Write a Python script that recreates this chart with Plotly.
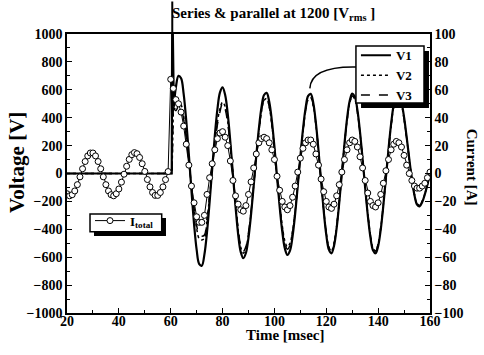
import plotly.graph_objects as go

# ---------------- data ----------------
# Voltage V1 (solid) [V]
t_v1 = [20, 30, 40, 50, 60, 60.4, 60.6, 61.2] + list(range(62, 161))
v1 = [0, 0, 0, 0, 0, 0, 1300, 480,
      620, 700,
      682, 569, 377, 136, -123, -361, -546, -650,
      -661, -580, -420, -205, 35, 268, 459, 581,
      617, 563, 426, 226, -7, -238, -434, -562, -607,
      -570, -459, -291, -88, 126, 321, 473, 563,
      578, 514, 379, 192, -23, -234, -413, -536, -584,
      -553, -450, -288, -88, 122, 315, 467, 556,
      571, 504, 361, 165, -55, -267, -440, -546,
      -572, -517, -390, -209, 0, 210, 391, 518, 573,
      551, 455, 299, 104, -104, -298, -454, -550,
      -572, -521, -402, -231, -30, 174, 356, 493, 566,
      568, 510, 403, 261, 106, -39, -155, -223,
      -236, -205, -150, -80, -5]

# Voltage V2 (dotted) and V3 (dashed) [V]
t_v23 = [20, 30, 40, 50, 60, 60.5, 61] + list(range(62, 161))
v2 = [0, 0, 0, 0, 0, 0, 450,
      480, 505,
      491, 410, 271, 98, -89, -260, -393, -468,
      -476, -464, -336, -164, 28, 214, 367, 465,
      512, 479, 371, 201, -6, -219, -404, -528, -571,
      -536, -431, -273, -83, 118, 299, 440, 524,
      538, 476, 350, 176, -21, -213, -372, -482, -526,
      -500, -410, -265, -82, 114, 296, 442, 528,
      542, 485, 348, 159, -53, -258, -425, -528,
      -553, -500, -377, -203, 0, 203, 378, 501, 555,
      533, 440, 289, 101, -101, -289, -440, -533,
      -555, -505, -390, -224, -29, 169, 345, 478, 549,
      551, 495, 391, 253, 103, -38, -150, -216,
      -229, -199, -146, -78, -5]
v3 = [0, 0, 0, 0, 0, 0, 480,
      450, 480,
      464, 387, 256, 92, -84, -245, -371, -442,
      -450, -441, -319, -156, 27, 204, 349, 442,
      506, 462, 358, 194, -6, -212, -395, -517, -559,
      -524, -422, -268, -82, 117, 299, 445, 529,
      543, 478, 352, 179, -21, -218, -384, -498, -543,
      -514, -419, -270, -83, 116, 300, 446, 534,
      548, 489, 350, 160, -53, -259, -427, -530,
      -555, -501, -378, -203, 0, 204, 379, 502, 556,
      534, 441, 290, 101, -101, -289, -440, -534,
      -555, -505, -390, -224, -29, 169, 345, 478, 549,
      551, 495, 391, 253, 103, -38, -150, -216,
      -229, -199, -146, -78, -5]

# Total current [A]
t_i = list(range(20, 161))
i_total = [-14.5, -16, -15.2, -12.5, -8, -2.4, 3.4, 8.6, 12.6, 14.7,
           14.7, 12.6, 8.6, 3.4, -2.4, -8, -12.5, -15.2, -16, -14.5,
           -11.1, -6.2, -0.5, 5.2, 10.1, 13.5, 15, 14.2, 11.5, 7,
           1.5, -4.3, -9.6, -13.6, -15.7, -15.7, -13.6, -9.6, -4.4, 1.4,
           67.5, 61, 53, 50, 44, 34, 21, 6, -9, -21,
           -31, -35, -35, -30, -15, -3, 7, 17, 25, 29,
           30, 26, 20, 9, -5, -16, -22, -26, -27, -23,
           -15, -6, 4, 14, 22, 25, 26, 25, 22, 17,
           10, -2, -12, -20, -24, -26, -23, -17, -9, 1,
           11, 18, 22, 24, 24, 21, 14, 6, -4, -13,
           -20, -24, -25, -22, -16, -8, 1, 10, 17, 22,
           24, 23, 19, 12, 4, -5, -14, -20, -23, -24,
           -21, -15, -7, 2, 10, 17, 21, 23, 22, 19,
           13, 6, 0, -5, -9, -10.5, -10.5, -9, -7, -3,
           1]

x_ticks = [20, 40, 60, 80, 100, 120, 140, 160]
v_ticks = [-1000, -800, -600, -400, -200, 0, 200, 400, 600, 800, 1000]
i_ticks = [-100, -80, -60, -40, -20, 0, 20, 40, 60, 80, 100]

# ---------------- figure ----------------
FONT = "Liberation Serif"
fig = go.Figure()

k1 = t_v1.index(61.2)
k23 = t_v23.index(61)

series = [
    ("V1", t_v1, v1, k1, dict(color="black", width=2.2, dash="solid")),
    ("V2", t_v23, v2, k23, dict(color="black", width=1.5, dash="dot")),
    ("V3", t_v23, v3, k23, dict(color="black", width=1.5, dash="dash")),
]
for name, t, v, k, ln in series:
    fig.add_trace(go.Scatter(x=t[:k + 1], y=v[:k + 1], mode="lines", name=name,
                             line=dict(shape="linear", **ln), legend="legend",
                             showlegend=True, yaxis="y"))
    fig.add_trace(go.Scatter(x=t[k:], y=v[k:], mode="lines", name=name,
                             line=dict(shape="spline", smoothing=1.0, **ln),
                             legend="legend", showlegend=False, yaxis="y"))

fig.add_trace(go.Scatter(x=t_i, y=i_total, mode="lines+markers",
                         name="I<sub>total</sub>",
                         line=dict(color="black", width=1),
                         marker=dict(symbol="circle", size=6, color="white",
                                     line=dict(color="black", width=1)),
                         yaxis="y2", legend="legend2"))

axis_common = dict(showgrid=False, zeroline=False, showline=True,
                   linecolor="black", linewidth=1.5, ticks="inside",
                   ticklen=5, tickwidth=1.2, tickcolor="black",
                   tickfont=dict(family=FONT, size=14, color="black", weight="bold"))

fig.update_layout(
    width=484, height=355,
    margin=dict(l=67, r=54, t=34, b=42),
    paper_bgcolor="white", plot_bgcolor="white",
    xaxis=dict(range=[20, 160], tickvals=x_ticks, mirror=True,
               ticklabelstandoff=-6,
               minor=dict(dtick=10, ticks="inside", ticklen=3,
                          tickcolor="black", tickwidth=1),
               **axis_common),
    yaxis=dict(range=[-1000, 1000], tickvals=v_ticks,
               minor=dict(dtick=100, ticks="inside", ticklen=3,
                          tickcolor="black", tickwidth=1),
               **axis_common),
    yaxis2=dict(range=[-100, 100], tickvals=i_ticks, overlaying="y",
                side="right",
                minor=dict(dtick=10, ticks="inside", ticklen=3,
                           tickcolor="black", tickwidth=1),
                **axis_common),
    legend=dict(x=0.796, y=0.852, xanchor="left", yanchor="middle",
                bgcolor="rgba(0,0,0,0)", borderwidth=0,
                font=dict(family=FONT, size=13, color="black", weight="bold"),
                itemwidth=30, tracegroupgap=0),
    legend2=dict(x=0.0634, y=0.331, xanchor="left", yanchor="middle",
                 bgcolor="rgba(0,0,0,0)", borderwidth=0,
                 font=dict(family=FONT, size=13, color="black", weight="bold"),
                 itemwidth=30),
    showlegend=True,
)

# legend frames with drop shadows
for sx0, sx1, sy0, sy1, bx0, bx1, by0, by1 in [
        (0.810, 0.9972, 0.7348, 0.939, 0.796, 0.9835, 0.7527, 0.957),
        (0.0744, 0.2727, 0.276, 0.3405, 0.0634, 0.2609, 0.2914, 0.3548)]:
    fig.add_shape(type="rect", xref="paper", yref="paper",
                  x0=sx0, x1=sx1, y0=sy0, y1=sy1,
                  fillcolor="black", line=dict(width=0), layer="above")
    fig.add_shape(type="rect", xref="paper", yref="paper",
                  x0=bx0, x1=bx1, y0=by0, y1=by1,
                  fillcolor="white", line=dict(color="black", width=1.5),
                  layer="above")

# curved pointer from legend to V1
fig.add_shape(type="path", xref="paper", yref="paper",
              path="M 0.796,0.882 Q 0.672,0.885 0.669,0.805",
              line=dict(color="black", width=1.5))

# spike continuation above the frame
spike_i = v1.index(max(v1))
fig.add_annotation(x=t_v1[spike_i], y=1000, xref="x", yref="y", text="",
                   showarrow=True, arrowhead=0, arrowwidth=2,
                   arrowcolor="black", ax=0, ay=-34, standoff=0,
                   startstandoff=0)

# titles
fig.add_annotation(text="Series &amp; parallel at 1200 [V<sub>rms</sub> ]",
                   xref="paper", yref="paper", x=0.57, y=1.072,
                   xanchor="center", yanchor="middle", showarrow=False,
                   font=dict(family=FONT, size=15, color="black", weight="bold"))
fig.add_annotation(text="Voltage [V]", xref="paper", yref="paper",
                   x=-0.138, y=0.541, textangle=-90, showarrow=False,
                   xanchor="center", yanchor="middle",
                   font=dict(family=FONT, size=21, color="black", weight="bold"))
fig.add_annotation(text="Current [A]", xref="paper", yref="paper",
                   x=1.118, y=0.5215, textangle=90, showarrow=False,
                   xanchor="center", yanchor="middle",
                   font=dict(family=FONT, size=15, color="black", weight="bold"))
fig.add_annotation(text="Time [msec]", xref="paper", yref="paper",
                   x=0.60, y=-0.078, showarrow=False,
                   xanchor="center", yanchor="middle",
                   font=dict(family=FONT, size=15, color="black", weight="bold"))

fig.write_html("out.html")
